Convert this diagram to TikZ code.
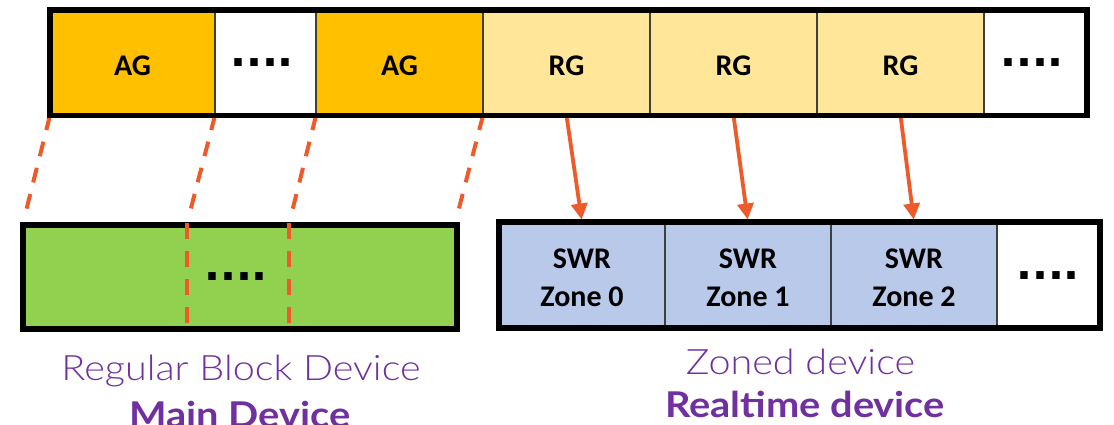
\documentclass[tikz,border=0pt]{standalone}
\usepackage{fontspec}
\setmainfont{Carlito}
\newfontfamily\lightfont{Lato Light}[FakeStretch=1.13]
\newfontfamily\labelfont{Lato}[FakeStretch=1.12]
\newfontfamily\dotfont{DejaVu Sans}
\usetikzlibrary{arrows.meta}

\definecolor{agfill}{HTML}{FFC000}
\definecolor{rgfill}{HTML}{FFE699}
\definecolor{mainfill}{HTML}{92D050}
\definecolor{zonefill}{HTML}{B9C9EA}
\definecolor{linkc}{HTML}{EF5A2B}
\definecolor{labelc}{HTML}{7030A0}

\tikzset{
  cell/.style={draw=black!75, line width=1.2pt, minimum height=105.5pt,
    inner sep=0pt, outer sep=0pt},
  zcell/.style={draw=black!75, line width=1.2pt, minimum height=106pt,
    inner sep=0pt, outer sep=0pt},
  frame/.style={draw=black, line width=5.5pt},
  celltext/.style={font=\fontsize{30}{38}\selectfont\bfseries, anchor=base,
    inner sep=0pt},
  dots/.style={font=\dotfont\bfseries\fontsize{42}{42}\selectfont, anchor=base,
    inner sep=0pt},
  link/.style={draw=linkc, line width=4pt, dash pattern=on 15pt off 12pt},
  split/.style={draw=linkc, line width=4pt, dash pattern=on 16pt off 12pt},
  zarrow/.style={draw=linkc, line width=3.8pt,
    -{Triangle[width=16pt,length=16pt]}, shorten >=2.5pt},
  caption/.style={text=labelc, anchor=base, inner sep=0pt},
}

\begin{document}
\begin{tikzpicture}[x=1pt, y=-1pt]
\useasboundingbox (0,0) rectangle (1114,424);

% allocation groups on top
\node[cell, fill=agfill, minimum width=165pt] (ag1) at (132.5,62.75) {};
\node[cell, fill=white,  minimum width=101pt] (d1)  at (265.5,62.75) {};
\node[cell, fill=agfill, minimum width=167pt] (ag2) at (399.5,62.75) {};
\node[cell, fill=rgfill, minimum width=167pt] (rg1) at (566.5,62.75) {};
\node[cell, fill=rgfill, minimum width=167pt] (rg2) at (733.5,62.75) {};
\node[cell, fill=rgfill, minimum width=167pt] (rg3) at (900.5,62.75) {};
\node[cell, fill=white,  minimum width=103pt] (d2)  at (1035.5,62.75) {};

% main device
\node[draw=black, line width=6pt, fill=mainfill, minimum width=433.5pt,
  minimum height=104.5pt, inner sep=0pt, outer sep=0pt] (main) at (239.75,276.75) {};

% zoned device
\node[zcell, fill=zonefill, minimum width=166pt]   (z0) at (582,275) {};
\node[zcell, fill=zonefill, minimum width=166pt]   (z1) at (748,275) {};
\node[zcell, fill=zonefill, minimum width=166pt]   (z2) at (914,275) {};
\node[zcell, fill=white,    minimum width=102.5pt] (d3) at (1048.25,275) {};

% mapping of the allocation groups onto the main device
\coordinate (m0) at (26,211);
\coordinate (m1) at (190,212);
\coordinate (m2) at (292,212);
\coordinate (m3) at (458,212);
\draw[link] (ag1.south west) -- (m0);
\draw[link] (ag1.south east) -- (m1);
\draw[link] (ag2.south west) -- (m2);
\draw[link] (ag2.south east) -- (m3);

\coordinate (v1a) at (186.5,223);
\coordinate (v1b) at (186.5,323);
\coordinate (v2a) at (289,223);
\coordinate (v2b) at (289,323);

% realtime groups onto zones
\draw[zarrow] (rg1.south) -- (z0.north);
\draw[zarrow] (rg2.south) -- (z1.north);
\draw[zarrow] (rg3.south) -- (z2.north);

% outer frames
\draw[frame] (ag1.north west) rectangle (d2.south east);
\draw[draw=black, line width=6pt] (z0.north west) rectangle (d3.south east);

\draw[split] (v1a) -- (v1b);
\draw[split] (v2a) -- (v2b);

% cell texts
\node[celltext] (tag1) at (132.5,75) {AG};
\node[dots]     (td1)  at (262,66) {....};
\node[celltext] (tag2) at (399.5,75) {AG};
\node[celltext] (trg1) at (566.5,75) {RG};
\node[celltext] (trg2) at (733.5,75) {RG};
\node[celltext] (trg3) at (900.5,75) {RG};
\node[dots]     (td2)  at (1032,66) {....};

\node[dots] (tdm) at (236,280.7) {....};

\node[celltext] (s0) at (582,268) {SWR};
\node[celltext] (n0) at (582,306) {Zone 0};
\node[celltext] (s1) at (748,268) {SWR};
\node[celltext] (n1) at (748,306) {Zone 1};
\node[celltext] (s2) at (914,268) {SWR};
\node[celltext] (n2) at (914,306) {Zone 2};
\node[dots]     (td3) at (1048,279) {....};

% device captions
\node[caption, font=\lightfont\fontsize{35}{35}\selectfont] (cap1) at (241,380) {Regular Block Device};
\node[caption, font=\labelfont\bfseries\fontsize{35.5}{35.5}\selectfont] (cap2) at (240,427) {Main Device};
\node[caption, font=\lightfont\fontsize{35}{35}\selectfont] (cap3) at (800.5,374.3) {Zoned device};
\node[caption, font=\labelfont\bfseries\fontsize{35.5}{35.5}\selectfont] (cap4) at (805,417.7) {Realtime device};
\end{tikzpicture}
\end{document}
